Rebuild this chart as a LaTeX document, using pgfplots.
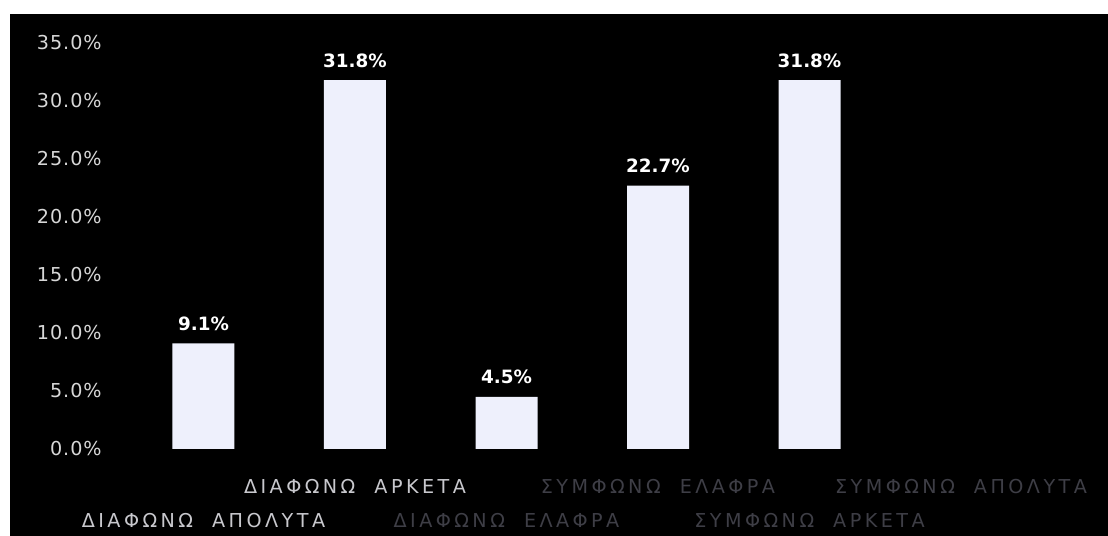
\documentclass[border=0pt]{standalone}
\usepackage{pgfplots}
\pgfplotsset{compat=1.18}
\usepackage{fontspec}
\setmainfont{DejaVu Sans}
\newfontfamily\catfont[LetterSpace=18,WordSpace=2.0]{DejaVu Sans}
\newfontfamily\tickfont[LetterSpace=5]{DejaVu Sans}
\definecolor{barfill}{RGB}{238,240,252}
\definecolor{ticktext}{RGB}{215,215,215}
\definecolor{cattext}{RGB}{200,200,205}
\definecolor{catdim}{RGB}{62,62,70}
\begin{document}
\begin{tikzpicture}
\useasboundingbox (0,0) rectangle (664.8pt,321.6pt);
\fill[white] (0,0) rectangle (664.8pt,321.6pt);
\begin{axis}[
  at={(6pt,0pt)}, anchor=south west,
  scale only axis, width=658.8pt, height=313.2pt,
  xmin=-1.277, xmax=5.970, ymin=-7.5, ymax=37.5,
  axis background/.style={fill=black},
  axis line style={draw=none},
  major tick length=0pt,
  ytick={0,5,...,35},
  /pgf/number format/assume math mode=true,
  yticklabel={\pgfmathprintnumber[fixed,fixed zerofill,precision=1]{\tick}\%},
  yticklabel style={anchor=east, inner sep=0pt, xshift=55.2pt, text=ticktext, font=\tickfont\fontsize{11.5}{13}\selectfont},
  xtick={0,1,2,3,4,5},
  xticklabels={
    {\textcolor{cattext}{ΔΙΑΦΩΝΩ ΑΠΟΛΥΤΑ}},
    {\raisebox{20.4pt}{\textcolor{cattext}{ΔΙΑΦΩΝΩ ΑΡΚΕΤΑ}}},
    {\textcolor{catdim}{ΔΙΑΦΩΝΩ ΕΛΑΦΡΑ}},
    {\raisebox{20.4pt}{\textcolor{catdim}{ΣΥΜΦΩΝΩ ΕΛΑΦΡΑ}}},
    {\textcolor{catdim}{ΣΥΜΦΩΝΩ ΑΡΚΕΤΑ}},
    {\raisebox{20.4pt}{\textcolor{catdim}{ΣΥΜΦΩΝΩ ΑΠΟΛΥΤΑ}}}},
  xticklabel style={anchor=base, inner sep=0pt, yshift=4.8pt, font=\catfont\fontsize{11.5}{13}\selectfont},
  ybar, bar width=37.2pt,
  nodes near coords={\pgfmathprintnumber[fixed,fixed zerofill,precision=1]{\pgfplotspointmeta}\%},
  every node near coord/.append style={text=white, font=\bfseries\fontsize{11}{13}\selectfont, yshift=4pt},
  clip=false,
]
\addplot[fill=barfill, draw=none] coordinates {(0,9.1) (1,31.8) (2,4.5) (3,22.7) (4,31.8)};
\end{axis}
\end{tikzpicture}
\end{document}
